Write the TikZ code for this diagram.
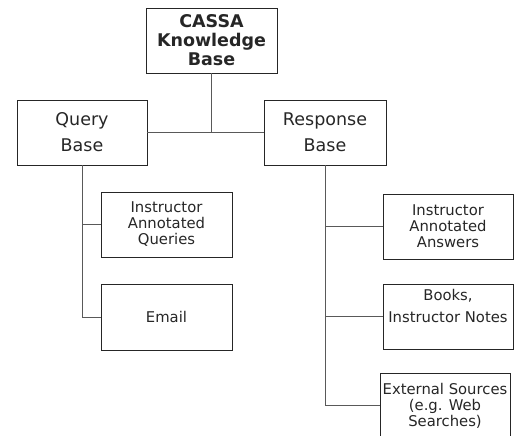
\documentclass[tikz,border=0pt]{standalone}
\usepackage{fontspec}
\setmainfont{DejaVu Sans}
\begin{document}
\begin{tikzpicture}[x=1pt,y=-1pt,
  box/.style={draw=black!85,line width=0.9pt,align=center,inner sep=0pt,text=black!85},
  big/.style={font=\fontsize{17.5}{26}\selectfont},
  small/.style={font=\fontsize{14.8}{16}\selectfont},
  link/.style={draw=black!65,line width=0.9pt}]
\useasboundingbox (0,0) rectangle (515,436);
\node[box,minimum width=131pt,minimum height=65pt,font=\fontsize{17.5}{19}\selectfont\bfseries] (kb) at (211.5,40.5) {CASSA\\Knowledge\\Base};
\node[box,big,minimum width=130pt,minimum height=65pt] (qb) at (82,132.5) {Query\\Base};
\node[box,big,minimum width=122pt,minimum height=65pt] (rb) at (325,132.5) {Response\\Base};
\node[box,small,minimum width=131pt,minimum height=65pt] (iaq) at (166.5,224.5) {Instructor\\Annotated\\Queries};
\node[box,small,minimum width=131pt,minimum height=66pt] (em) at (166.5,317) {Email};
\node[box,small,minimum width=130pt,minimum height=65pt] (iaa) at (448,226.5) {Instructor\\Annotated\\Answers};
\node[box,small,minimum width=130pt,minimum height=65pt] (bk) at (448,316.5) {Books,\\[6pt]Instructor Notes\\[6pt]\mbox{}};
\node[box,small,minimum width=130pt,minimum height=65pt] (ext) at (445,405.5) {External Sources\\(e.g. Web\\Searches)};
\draw[link] (qb.east) -- (rb.west);
\draw[link] (kb.south) -- (kb.south |- qb.east);
\draw[link] (qb.south) |- (em.west);
\draw[link] (qb.south |- iaq.west) -- (iaq.west);
\draw[link] (rb.south) |- (ext.west);
\draw[link] (rb.south |- iaa.west) -- (iaa.west);
\draw[link] (rb.south |- bk.west) -- (bk.west);
\end{tikzpicture}
\end{document}
